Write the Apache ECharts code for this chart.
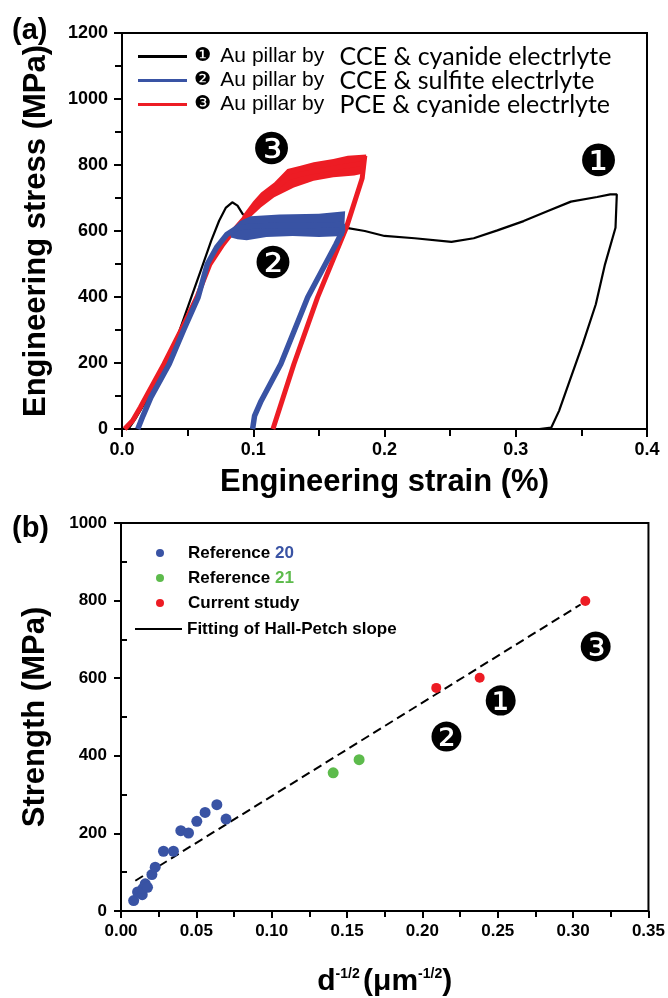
<!DOCTYPE html>
<html>
<head>
<meta charset="utf-8">
<title>Au pillar stress-strain and Hall-Petch</title>
<script src="https://cdn.jsdelivr.net/npm/echarts@6/dist/echarts.min.js"></script>
<style>
  html, body { margin: 0; padding: 0; background: #fff; }
  #chart { width: 668px; height: 998px; }
</style>
</head>
<body>
<div id="chart"></div>
<script>
// ---- panel (a): engineering stress-strain ----
const blackStrain = [0.005, 0.010, 0.017, 0.024, 0.033, 0.042, 0.051, 0.060, 0.068, 0.074, 0.079, 0.084, 0.088, 0.092, 0.097, 0.101, 0.120, 0.140, 0.160, 0.170, 0.185, 0.200, 0.223, 0.251, 0.268, 0.286, 0.306, 0.324, 0.342, 0.362, 0.372, 0.377, 0.376, 0.368, 0.361, 0.351, 0.341, 0.333, 0.327, 0.318]
const blackStress = [0, 30, 76, 126, 197, 278, 379, 480, 571, 631, 670, 687, 677, 651, 639, 638, 632, 625, 617, 610, 600, 585, 578, 567, 578, 602, 630, 660, 689, 703, 711, 711, 610, 499, 378, 257, 145, 55, 4, 0]

const redStrain = [0.002, 0.008, 0.014, 0.020, 0.032, 0.045, 0.057, 0.067, 0.077, 0.085, 0.096, 0.106, 0.116, 0.126, 0.136, 0.146, 0.161, 0.172, 0.184, 0.185, 0.183, 0.171, 0.149, 0.131, 0.115]
const redStress = [0, 25, 66, 110, 197, 300, 399, 500, 560, 601, 651, 695, 725, 760, 772, 780, 790, 798, 805, 828, 760, 611, 399, 197, 0]
// outline of the noisy plateau band (upper edge, then lower edge back)
const redBandStrain = [0.092, 0.100, 0.106, 0.116, 0.126, 0.136, 0.146, 0.161, 0.172, 0.186, 0.185, 0.177, 0.161, 0.146, 0.131, 0.116, 0.106, 0.096, 0.090]
const redBandStress = [648, 690, 717, 747, 788, 798, 808, 818, 828, 832, 775, 768, 763, 752, 732, 702, 672, 635, 610]

const blueStrain = [0.012, 0.016, 0.022, 0.036, 0.047, 0.058, 0.065, 0.072, 0.080, 0.088, 0.100, 0.120, 0.140, 0.160, 0.168, 0.168, 0.163, 0.1415, 0.121, 0.106, 0.101, 0.0995]
const blueStress = [0, 40, 96, 197, 300, 399, 500, 550, 590, 610, 615, 617, 617, 618, 620, 600, 560, 399, 197, 85, 40, 0]
const blueBandStrain = [0.082, 0.090, 0.098, 0.120, 0.150, 0.170, 0.169, 0.150, 0.130, 0.110, 0.095, 0.088, 0.083]
const blueBandStress = [600, 630, 645, 650, 652, 660, 585, 582, 585, 582, 572, 575, 580]

const legendA = [
  '❶ Au pillar by CCE & cyanide electrlyte',
  '❷ Au pillar by CCE & sulfite electrlyte',
  '❸ Au pillar by PCE & cyanide electrlyte'
]
const marksA = [[0.114, 837, '❸'], [0.115, 491, '❷'], [0.363, 802, '❶']]

// ---- panel (b): Hall-Petch ----
const ref20X = [0.0084, 0.0110, 0.0141, 0.0146, 0.0161, 0.0176, 0.0205, 0.0227, 0.0282, 0.0348, 0.0397, 0.0448, 0.0503, 0.0558, 0.0636, 0.0697]
const ref20Y = [27, 49, 42, 58, 70, 61, 94, 113, 154, 154, 207, 201, 231, 254, 274, 237]
const ref21X = [0.1408, 0.158]
const ref21Y = [356, 390]
const currentX = [0.2092, 0.238, 0.3081]
const currentY = [575, 601, 799]
const fitX = [0.0095, 0.305]
const fitY = [78, 790]
const marksB = [[0.216, 438, '❷'], [0.252, 532, '❶'], [0.315, 670, '❸']]
const minorStrengthTicks = [100, 300, 500, 700, 900]

const BLACK = '#000000'
const BLUE = '#3953a4'
const RED = '#ed1c24'
const GREEN = '#5dbb4c'
const AXIS_FONT = 'Liberation Sans, Arial, sans-serif'

const zip = (xs, ys) => xs.map((x, i) => [x, ys[i]])

const bandSeries = (name, xs, ys, color, z) => {
  const outline = zip(xs, ys)
  return {
    name,
    type: 'custom',
    xAxisIndex: 0,
    yAxisIndex: 0,
    data: outline,
    encode: { x: 0, y: 1 },
    itemStyle: { color },
    silent: true,
    z,
    renderItem: (params, api) => {
      if (params.dataIndex !== 0) return null
      return {
        type: 'polygon',
        shape: { points: outline.map(p => api.coord(p)) },
        style: { fill: color }
      }
    }
  }
}

const markSeries = (marks, xi, yi, size) => ({
  type: 'scatter',
  xAxisIndex: xi,
  yAxisIndex: yi,
  data: marks,
  symbolSize: 0,
  silent: true,
  z: 10,
  label: {
    show: true,
    position: 'inside',
    formatter: p => p.data[2],
    fontFamily: 'DejaVu Sans',
    fontSize: size,
    color: '#000',
    opacity: 1,
    textBorderWidth: 0
  }
})

const tickLabel = { color: BLACK, fontFamily: AXIS_FONT, fontWeight: 'bold', fontSize: 18 }
const nameStyle = { color: BLACK, fontFamily: AXIS_FONT, fontWeight: 'bold', fontSize: 31 }
const axisLine = { show: true, lineStyle: { color: BLACK, width: 2 } }

const chart = echarts.init(document.getElementById('chart'))

const option = {
  backgroundColor: '#fff',
  animation: false,
  graphic: [
    { type: 'text', left: 12, top: 16, style: { text: '(a)', font: 'bold 29px Liberation Sans', fill: BLACK } },
    { type: 'text', left: 12, top: 514, style: { text: '(b)', font: 'bold 29px Liberation Sans', fill: BLACK } }
  ],
  grid: [
    { left: 122, right: 21, top: 33, bottom: 569, show: true, borderColor: BLACK, borderWidth: 2 },
    { left: 121, right: 19, top: 523, bottom: 85, show: true, borderColor: BLACK, borderWidth: 2 }
  ],
  legend: [
    {
      data: legendA.map(n => ({ name: n, icon: 'rect' })),
      orient: 'vertical',
      left: 133,
      top: 39,
      itemWidth: 49,
      itemHeight: 3,
      itemGap: -1,
      selectedMode: false,
      formatter: name => {
        const p = name.match(/^(\S) (Au pillar by) (.*)$/)
        return `{n|${p[1]}} {s|${p[2]}} {b|${p[3]}}`
      },
      textStyle: {
        lineHeight: 25,
        rich: {
          n: { fontFamily: 'DejaVu Sans', fontSize: 19, color: BLACK, padding: [0, 2, 0, 2], lineHeight: 25 },
          s: { fontFamily: 'Liberation Sans', fontSize: 21, color: BLACK, padding: [0, 12, 0, 4], lineHeight: 25 },
          b: { fontFamily: 'Lato', fontSize: 25, color: BLACK, lineHeight: 25 }
        }
      }
    },
    {
      data: [
        { name: 'Reference 20', icon: 'circle' },
        { name: 'Reference 21', icon: 'circle' },
        { name: 'Current study', icon: 'circle' }
      ],
      orient: 'vertical',
      left: 151,
      top: 538,
      itemWidth: 46,
      itemHeight: 8,
      itemGap: 5,
      selectedMode: false,
      formatter: name => {
        if (name === 'Reference 20') return 'Reference {c20|20}'
        if (name === 'Reference 21') return 'Reference {c21|21}'
        return name
      },
      textStyle: {
        color: BLACK, fontFamily: AXIS_FONT, fontWeight: 'bold', fontSize: 17, lineHeight: 20,
        rich: {
          c20: { color: BLUE, fontFamily: AXIS_FONT, fontWeight: 'bold', fontSize: 17, lineHeight: 20 },
          c21: { color: GREEN, fontFamily: AXIS_FONT, fontWeight: 'bold', fontSize: 17, lineHeight: 20 }
        }
      }
    },
    {
      data: [{ name: 'Fitting of Hall-Petch slope', icon: 'rect', itemStyle: { color: BLACK } }],
      left: 130,
      top: 614,
      itemWidth: 47,
      itemHeight: 2,
      selectedMode: false,
      textStyle: { color: BLACK, fontFamily: AXIS_FONT, fontWeight: 'bold', fontSize: 17, lineHeight: 20 }
    }
  ],
  xAxis: [
    {
      gridIndex: 0, type: 'value', min: 0, max: 0.4, interval: 0.1,
      name: 'Engineering strain (%)', nameLocation: 'middle', nameGap: 38, nameTextStyle: nameStyle,
      axisLine, splitLine: { show: false },
      axisTick: { show: true, length: 8, lineStyle: { color: BLACK, width: 2 } },
      minorTick: { show: true, splitNumber: 2, length: 7, lineStyle: { color: BLACK, width: 2 } },
      axisLabel: { ...tickLabel, margin: 12, formatter: v => v.toFixed(1) }
    },
    {
      gridIndex: 1, type: 'value', min: 0, max: 0.35, interval: 0.05,
      name: '{m|d}{s|-1/2} {m|(μm}{s|-1/2}{m|)}', nameLocation: 'middle', nameGap: 56,
      nameTextStyle: {
        rich: {
          m: { color: BLACK, fontFamily: AXIS_FONT, fontWeight: 'bold', fontSize: 30 },
          s: { color: BLACK, fontFamily: AXIS_FONT, fontWeight: 'bold', fontSize: 14, padding: [0, 0, 16, 0] }
        }
      },
      axisLine, splitLine: { show: false },
      axisTick: { show: true, length: 7, lineStyle: { color: BLACK, width: 2 } },
      minorTick: { show: true, splitNumber: 2, length: 6, lineStyle: { color: BLACK, width: 2 } },
      axisLabel: { ...tickLabel, fontSize: 17, margin: 12, formatter: v => v.toFixed(2) }
    }
  ],
  yAxis: [
    {
      gridIndex: 0, type: 'value', min: 0, max: 1200, interval: 200,
      name: 'Engineering stress (MPa)', nameLocation: 'middle', nameGap: 70, nameTextStyle: nameStyle,
      axisLine, splitLine: { show: false },
      axisTick: { show: true, length: 8, lineStyle: { color: BLACK, width: 2 } },
      minorTick: { show: true, splitNumber: 2, length: 7, lineStyle: { color: BLACK, width: 2 } },
      axisLabel: { ...tickLabel, margin: 14, formatter: v => String(v) }
    },
    {
      gridIndex: 1, type: 'value', min: 0, max: 1000, interval: 200, position: 'left',
      name: 'Strength (MPa)', nameLocation: 'middle', nameGap: 70, nameTextStyle: nameStyle,
      axisLine, splitLine: { show: false },
      axisTick: { show: true, length: 7, lineStyle: { color: BLACK, width: 2 } },
      axisLabel: { ...tickLabel, fontSize: 17, margin: 14, formatter: v => String(v) }
    },
    {
      // only carries the inward minor ticks of panel (b)
      gridIndex: 1, type: 'value', min: 0, max: 1000, interval: 200, position: 'left', offset: 0,
      axisLine: { show: false }, axisLabel: { show: false }, splitLine: { show: false },
      axisTick: {
        show: true, inside: true, length: 6, customValues: minorStrengthTicks,
        lineStyle: { color: BLACK, width: 2 }
      }
    }
  ],
  series: [
    {
      name: legendA[0], type: 'line', xAxisIndex: 0, yAxisIndex: 0,
      data: zip(blackStrain, blackStress), showSymbol: false, z: 2,
      lineStyle: { color: BLACK, width: 2.2 }, itemStyle: { color: BLACK }
    },
    {
      name: legendA[2], type: 'line', xAxisIndex: 0, yAxisIndex: 0,
      data: zip(redStrain, redStress), showSymbol: false, z: 3,
      lineStyle: { color: RED, width: 5 }, itemStyle: { color: RED }
    },
    bandSeries(legendA[2], redBandStrain, redBandStress, RED, 3),
    {
      name: legendA[1], type: 'line', xAxisIndex: 0, yAxisIndex: 0,
      data: zip(blueStrain, blueStress), showSymbol: false, z: 4,
      lineStyle: { color: BLUE, width: 5.5 }, itemStyle: { color: BLUE }
    },
    bandSeries(legendA[1], blueBandStrain, blueBandStress, BLUE, 4),
    markSeries(marksA, 0, 0, 44),

    {
      name: 'Fitting of Hall-Petch slope', type: 'line', xAxisIndex: 1, yAxisIndex: 1,
      data: zip(fitX, fitY), showSymbol: false, z: 3,
      lineStyle: { color: BLACK, width: 2, type: [9, 5] }, itemStyle: { color: BLACK }
    },
    {
      name: 'Reference 20', type: 'scatter', xAxisIndex: 1, yAxisIndex: 1,
      data: zip(ref20X, ref20Y), symbolSize: 11, itemStyle: { color: BLUE, opacity: 1 }, z: 4
    },
    {
      name: 'Reference 21', type: 'scatter', xAxisIndex: 1, yAxisIndex: 1,
      data: zip(ref21X, ref21Y), symbolSize: 11, itemStyle: { color: GREEN, opacity: 1 }, z: 4
    },
    {
      name: 'Current study', type: 'scatter', xAxisIndex: 1, yAxisIndex: 1,
      data: zip(currentX, currentY), symbolSize: 10, itemStyle: { color: RED, opacity: 1 }, z: 4
    },
    markSeries(marksB, 1, 1, 40)
  ]
}

chart.setOption(option)
window.addEventListener('resize', () => chart.resize())
</script>
</body>
</html>
